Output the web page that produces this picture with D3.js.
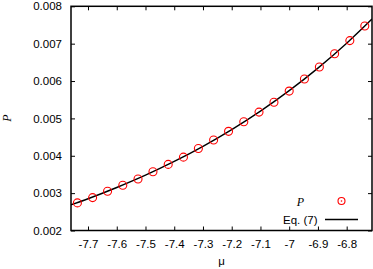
<!DOCTYPE html>
<html>
<head>
<meta charset="utf-8">
<script src="https://cdn.jsdelivr.net/npm/d3@7"></script>
<style>
  body { margin: 0; background: #fff; }
  svg { display: block; }
</style>
</head>
<body>
<svg id="chart" width="373" height="269"></svg>
<script>
// simulated points P(mu)
const muPoints = [-7.737, -7.684, -7.632, -7.579, -7.526, -7.474, -7.421, -7.368, -7.316, -7.263,
  -7.211, -7.158, -7.105, -7.053, -7.0, -6.947, -6.895, -6.842, -6.789, -6.737];
const pPoints = [0.002739, 0.00288, 0.00305, 0.00321, 0.003378, 0.003572, 0.003769, 0.003963, 0.004194, 0.004423,
  0.004654, 0.004912, 0.005168, 0.005434, 0.005731, 0.006056, 0.006375, 0.006729, 0.007082, 0.007473];

// Eq. (7) curve
const muLine = [-7.76, -7.7, -7.6, -7.5, -7.4, -7.3, -7.2, -7.1, -7.0, -6.9, -6.8, -6.712];
const pLine = [0.002684, 0.00285, 0.003151, 0.003481, 0.003848, 0.004253, 0.004701, 0.005195, 0.005742, 0.006346, 0.007013, 0.007659];

const xTicks = [-7.7, -7.6, -7.5, -7.4, -7.3, -7.2, -7.1, -7.0, -6.9, -6.8];
const xTickLabels = ['-7.7', '-7.6', '-7.5', '-7.4', '-7.3', '-7.2', '-7.1', '-7', '-6.9', '-6.8'];
const yTicks = [0.002, 0.003, 0.004, 0.005, 0.006, 0.007, 0.008];
const yTickLabels = ['0.002', '0.003', '0.004', '0.005', '0.006', '0.007', '0.008'];

const svg = d3.select('#chart');
const plotLeft = 71, plotRight = 372, plotTop = 6.3, plotBottom = 230.5;

const x = d3.scaleLinear().domain([-7.7592, -6.7119]).range([plotLeft, plotRight]);
const y = d3.scaleLinear().domain([0.002, 0.008]).range([plotBottom, plotTop]);

const font = '"Liberation Sans", Arial, Helvetica, sans-serif';
const serif = '"Liberation Serif", "DejaVu Serif", serif';

//ticks, pointing inward on all four sides
svg.append('g')
  .attr('transform', `translate(0,${plotBottom})`)
  .call(d3.axisBottom(x).tickValues(xTicks).tickSize(-4).tickPadding(9)
    .tickFormat((d, i) => xTickLabels[i]));
svg.append('g')
  .attr('transform', `translate(0,${plotTop})`)
  .call(d3.axisTop(x).tickValues(xTicks).tickSize(-4).tickFormat(''));
svg.append('g')
  .attr('transform', `translate(${plotLeft},0)`)
  .call(d3.axisLeft(y).tickValues(yTicks).tickSize(-4).tickPadding(9)
    .tickFormat((d, i) => yTickLabels[i]));
svg.append('g')
  .attr('transform', `translate(${plotRight},0)`)
  .call(d3.axisRight(y).tickValues(yTicks).tickSize(-4).tickFormat(''));

svg.selectAll('.domain').remove();
svg.selectAll('.tick line').attr('stroke', '#000').attr('stroke-width', 1);
svg.selectAll('.tick text')
  .attr('fill', '#000')
  .style('font-family', font)
  .style('font-size', '11.5px');

// clip for the curve
svg.append('clipPath').attr('id', 'plotclip')
  .append('rect').attr('x', plotLeft).attr('y', plotTop)
  .attr('width', plotRight - plotLeft).attr('height', plotBottom - plotTop);

const lineData = muLine.map((m, i) => [m, pLine[i]]);
svg.append('path')
  .datum(lineData)
  .attr('clip-path', 'url(#plotclip)')
  .attr('fill', 'none')
  .attr('stroke', '#000')
  .attr('stroke-width', 1.4)
  .attr('d', d3.line().x(d => x(d[0])).y(d => y(d[1])).curve(d3.curveMonotoneX));

svg.append('g')
  .selectAll('circle')
  .data(muPoints.map((m, i) => [m, pPoints[i]]))
  .join('circle')
  .attr('cx', d => x(d[0]))
  .attr('cy', d => y(d[1]))
  .attr('r', 4)
  .attr('fill', 'none')
  .attr('stroke', '#ff0000')
  .attr('stroke-width', 1.1);

// frame
svg.append('rect')
  .attr('x', plotLeft).attr('y', plotTop)
  .attr('width', plotRight - plotLeft).attr('height', plotBottom - plotTop)
  .attr('fill', 'none')
  .attr('stroke', '#000')
  .attr('stroke-width', 1.5);

// axis labels
svg.append('text')
  .attr('x', (plotLeft + plotRight) / 2)
  .attr('y', 265)
  .attr('text-anchor', 'middle')
  .style('font-family', font)
  .style('font-size', '11.5px')
  .text('μ');

svg.append('text')
  .attr('transform', 'translate(11,118) rotate(-90)')
  .attr('text-anchor', 'middle')
  .style('font-family', serif)
  .style('font-style', 'italic')
  .style('font-size', '12px')
  .text('P');

// legend
const legend = svg.append('g');
legend.append('text')
  .attr('x', 304).attr('y', 206)
  .attr('text-anchor', 'end')
  .style('font-family', serif)
  .style('font-style', 'italic')
  .style('font-size', '12px')
  .text('P');
legend.append('circle')
  .attr('cx', 341.5).attr('cy', 201)
  .attr('r', 3.5)
  .attr('fill', 'none')
  .attr('stroke', '#ff0000')
  .attr('stroke-width', 1.1);
legend.append('circle')
  .attr('cx', 341.5).attr('cy', 201)
  .attr('r', 0.8)
  .attr('fill', '#ff0000');
legend.append('text')
  .attr('x', 317.5).attr('y', 224)
  .attr('text-anchor', 'end')
  .style('font-family', font)
  .style('font-size', '11.5px')
  .text('Eq. (7)');
legend.append('line')
  .attr('x1', 325).attr('x2', 358)
  .attr('y1', 219.5).attr('y2', 219.5)
  .attr('stroke', '#000')
  .attr('stroke-width', 1.4);
</script>
</body>
</html>
